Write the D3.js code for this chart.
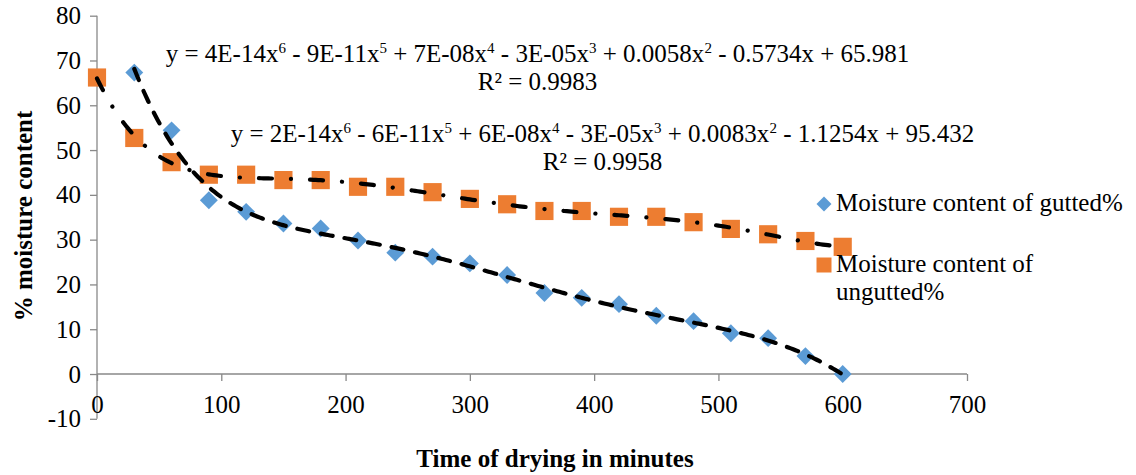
<!DOCTYPE html>
<html>
<head>
<meta charset="utf-8">
<script src="https://cdn.jsdelivr.net/npm/d3@7"></script>
<style>
  html, body { margin: 0; padding: 0; background: #fff; }
  svg { display: block; }
  svg text { font-family: "Liberation Serif", "Times New Roman", serif; }
</style>
</head>
<body>
<svg id="chart" width="1136" height="475"></svg>
<script>
// Drying time (minutes) and moisture content (%) for each sample type
const guttedTime = [30, 60, 90, 120, 150, 180, 210, 240, 270, 300, 330, 360, 390, 420, 450, 480, 510, 540, 570, 600];
const guttedMoisture = [67.3, 54.4, 38.8, 36.2, 33.6, 32.5, 29.8, 27.1, 26.2, 24.7, 22.1, 18.1, 17.0, 15.6, 13.0, 11.8, 9.1, 8.0, 4.0, 0.0];

const unguttedTime = [0, 30, 60, 90, 120, 150, 180, 210, 240, 270, 300, 330, 360, 390, 420, 450, 480, 510, 540, 570, 600];
const unguttedMoisture = [66.2, 52.7, 47.3, 44.5, 44.5, 43.3, 43.3, 41.8, 41.8, 40.6, 39.1, 37.9, 36.4, 36.4, 35.1, 35.1, 33.9, 32.4, 31.2, 29.7, 28.4];

const xTicks = [0, 100, 200, 300, 400, 500, 600, 700];
const yTicks = [-10, 0, 10, 20, 30, 40, 50, 60, 70, 80];

const seriesNames = ["Moisture content of gutted%", "Moisture content of ungutted%"];
const eqUngutted = [["y = 4E-14x", ""], ["6", "sup"], [" - 9E-11x", ""], ["5", "sup"], [" + 7E-08x", ""], ["4", "sup"],
  [" - 3E-05x", ""], ["3", "sup"], [" + 0.0058x", ""], ["2", "sup"], [" - 0.5734x + 65.981", ""]];
const r2Ungutted = "R² = 0.9983";
const eqGutted = [["y = 2E-14x", ""], ["6", "sup"], [" - 6E-11x", ""], ["5", "sup"], [" + 6E-08x", ""], ["4", "sup"],
  [" - 3E-05x", ""], ["3", "sup"], [" + 0.0083x", ""], ["2", "sup"], [" - 1.1254x + 95.432", ""]];
const r2Gutted = "R² = 0.9958";

const BLUE = "#5B9BD5", ORANGE = "#ED7D31", AXIS = "#898989";
const FS = "25px";

const svg = d3.select("#chart");
const x = d3.scaleLinear().domain([0, 700]).range([97, 967]);
const y = d3.scaleLinear().domain([-10, 80]).range([418.8, 15.7]);

// Least-squares polynomial fit (order 6), x normalised for stability
function polyfit(xs, ys, deg) {
  const s = d3.max(xs);
  const n = deg + 1;
  const A = Array.from({length: n}, () => new Array(n + 1).fill(0));
  xs.forEach((xv, k) => {
    const t = xv / s;
    for (let i = 0; i < n; i++) {
      for (let j = 0; j < n; j++) A[i][j] += Math.pow(t, i + j);
      A[i][n] += ys[k] * Math.pow(t, i);
    }
  });
  for (let c = 0; c < n; c++) {
    let p = c;
    for (let r = c + 1; r < n; r++) if (Math.abs(A[r][c]) > Math.abs(A[p][c])) p = r;
    [A[c], A[p]] = [A[p], A[c]];
    for (let r = 0; r < n; r++) {
      if (r === c) continue;
      const f = A[r][c] / A[c][c];
      for (let k = c; k <= n; k++) A[r][k] -= f * A[c][k];
    }
  }
  const coef = A.map((row, i) => row[n] / row[i]);
  return xv => coef.reduce((acc, cf, i) => acc + cf * Math.pow(xv / s, i), 0);
}

// Axes
const yAxis = d3.axisLeft(y).tickValues(yTicks).tickFormat(d => String(d)).tickSize(7).tickPadding(9);
const gy = svg.append("g").attr("transform", `translate(${x(0)},0)`).call(yAxis);
const xAxis = d3.axisBottom(x).tickValues(xTicks).tickFormat(d => String(d)).tickSize(7).tickPadding(14);
const gx = svg.append("g").attr("transform", `translate(0,${y(0)})`).call(xAxis);
[gx, gy].forEach(g => {
  g.attr("font-family", null).attr("font-size", null);
  g.selectAll("path.domain").attr("stroke", AXIS).attr("stroke-width", 1.3);
  g.selectAll(".tick line").attr("stroke", AXIS).attr("stroke-width", 1.3);
  g.selectAll(".tick text").attr("fill", "#000").style("font-size", FS);
});
gx.select("path.domain").attr("d", `M${x(0)},0H${x(700)}`);
gy.select("path.domain").attr("d", `M0,${y(-10)}V${y(80)}`);

// Markers
const square = d3.symbol(d3.symbolSquare, 330);
const diamond = d3.symbol(d3.symbolSquare, 160);
svg.append("g").selectAll("path").data(d3.zip(unguttedTime, unguttedMoisture)).join("path")
  .attr("d", square).attr("fill", ORANGE)
  .attr("transform", d => `translate(${x(d[0])},${y(d[1])})`);
svg.append("g").selectAll("path").data(d3.zip(guttedTime, guttedMoisture)).join("path")
  .attr("d", diamond).attr("fill", BLUE)
  .attr("transform", d => `translate(${x(d[0])},${y(d[1])}) rotate(45)`);

// Polynomial trend lines
function trend(xs, ys, dash) {
  const f = polyfit(xs, ys, 6);
  const lo = d3.min(xs), hi = d3.max(xs);
  const pts = d3.range(0, 301).map(i => lo + (hi - lo) * i / 300);
  svg.append("path")
    .attr("d", d3.line().x(v => x(v)).y(v => y(f(v)))(pts))
    .attr("fill", "none").attr("stroke", "#000").attr("stroke-width", 4.2)
    .attr("stroke-linecap", "round").attr("stroke-dasharray", dash);
}
trend(guttedTime, guttedMoisture, "12,12");
trend(unguttedTime, unguttedMoisture, "13,19,0.1,19");

// Trend equation labels: equation line plus R² line in one text block
function equation(parts, r2, cx, yb) {
  const t = svg.append("text").attr("x", cx).attr("y", yb).attr("text-anchor", "middle")
    .style("font-size", FS).attr("fill", "#000");
  let raised = false;
  parts.forEach(([s, kind]) => {
    const sp = t.append("tspan").text(s);
    if (kind === "sup") { sp.attr("dy", -9).style("font-size", "15px"); raised = true; }
    else if (raised) { sp.attr("dy", 9); raised = false; }
  });
  t.append("tspan").attr("x", cx).attr("y", yb + 28).text(r2);
}
equation(eqUngutted, r2Ungutted, 537.5, 62);
equation(eqGutted, r2Gutted, 602.5, 142);

// Legend
const lg = svg.append("g");
lg.append("path").attr("d", d3.symbol(d3.symbolSquare, 112)).attr("fill", BLUE)
  .attr("transform", "translate(824,204) rotate(45)");
lg.append("text").attr("x", 836).attr("y", 211).style("font-size", FS).text(seriesNames[0]);
lg.append("path").attr("d", d3.symbol(d3.symbolSquare, 225)).attr("fill", ORANGE)
  .attr("transform", "translate(824,265)");
const l2 = lg.append("text").attr("x", 836).attr("y", 272).style("font-size", FS);
l2.append("tspan").attr("x", 836).text("Moisture content of");
l2.append("tspan").attr("x", 836).attr("dy", 27.5).text("ungutted%");

// Axis titles
svg.append("text").attr("x", 555).attr("y", 467).attr("text-anchor", "middle")
  .style("font-size", FS).style("font-weight", "bold").text("Time of drying in minutes");
svg.append("text").attr("transform", "translate(32,216) rotate(-90)").attr("text-anchor", "middle")
  .style("font-size", FS).style("font-weight", "bold").text("% moisture content");
</script>
</body>
</html>
